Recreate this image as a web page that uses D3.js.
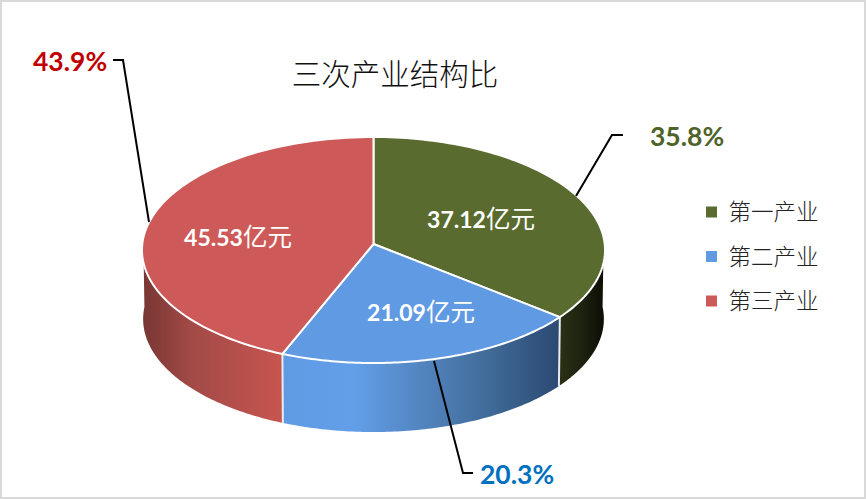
<!DOCTYPE html>
<html>
  <head>
    <meta charset="utf-8">
    <script src="https://d3js.org/d3.v7.min.js"></script>
    <title>三次产业结构比</title>
    <style>
      html, body { margin: 0; padding: 0; background: #fff; }
      svg { display: block; }
    </style>
  </head>
  <body>
    <script>
      // Chart data
      const categories = ["第一产业", "第二产业", "第三产业"];
      const values = [37.12, 21.09, 45.53];
      const shares = ["35.8%", "20.3%", "43.9%"];
      const unit = "亿元";
      const title = "三次产业结构比";

      const colors = ["#5a6b30", "#5f9ae3", "#cd5a58"];
      const shareColors = ["#4f6228", "#0070c0", "#c00000"];

      const width = 866, height = 499;
      const cjk = "'Noto Sans CJK SC', sans-serif";
      const latin = "Lato, 'Noto Sans', sans-serif";

      const svg = d3.select("body").append("svg")
        .attr("width", width)
        .attr("height", height);

      // outer frame
      svg.append("rect")
        .attr("x", 1).attr("y", 1)
        .attr("width", width - 2).attr("height", height - 2)
        .attr("fill", "#fff")
        .attr("stroke", "#d9d9d9")
        .attr("stroke-width", 2);

      // perspective tilt of the pie disc
      const cx = 373.5, cy = 244, rx = 231.2, ry = 112.7, tilt = 0.0531, depth = 69;
      function project(a, r = 1) {
        const u = Math.sin(a) * r, v = -Math.cos(a) * r, w = 1 - tilt * v;
        return [cx + rx * u / w, cy + ry * v / w];
      }

      const arcs = d3.pie().sort(null)(values);
      const line = d3.line();
      const defs = svg.append("defs");

      function arcPoints(a0, a1) {
        return d3.range(0, 91).map(i => project(a0 + (a1 - a0) * i / 90));
      }

      // side wall gradients
      const sideStops = [
        { x1: 559, x2: 605, stops: [[0, "#2b3116"], [0.55, "#1c200e"], [1, "#0b0d04"]] },
        { x1: 283, x2: 559, stops: [[0, "#5f9ae3"], [0.25, "#639fe9"], [0.7, "#44709f"], [1, "#2b4a73"]] },
        { x1: 142, x2: 283, stops: [[0, "#773633"], [0.35, "#a24a47"], [1, "#c8554f"]] }
      ];
      sideStops.forEach((g, i) => {
        const grad = defs.append("linearGradient")
          .attr("id", "side" + i)
          .attr("gradientUnits", "userSpaceOnUse")
          .attr("x1", g.x1).attr("x2", g.x2)
          .attr("y1", 0).attr("y2", 0);
        g.stops.forEach(s => grad.append("stop").attr("offset", s[0]).attr("stop-color", s[1]));
      });

      // side walls, only the part facing the viewer
      const frontStart = Math.PI / 2 - Math.asin(tilt), frontEnd = Math.PI * 1.5 + Math.asin(tilt);
      arcs.forEach((d, i) => {
        const a0 = Math.max(d.startAngle, frontStart), a1 = Math.min(d.endAngle, frontEnd);
        if (a1 <= a0) return;
        const upper = arcPoints(a0, a1);
        const lower = upper.slice().reverse().map(p => [cx + (p[0] - cx) * 0.995, p[1] + depth]);
        svg.append("path")
          .attr("d", line(upper.concat(lower)) + "Z")
          .attr("fill", "url(#side" + i + ")");
      });

      // white seams between the walls
      [arcs[0].endAngle, arcs[1].endAngle].forEach(a => {
        const p = project(a);
        svg.append("line")
          .attr("x1", p[0]).attr("y1", p[1])
          .attr("x2", cx + (p[0] - cx) * 0.995).attr("y2", p[1] + depth)
          .attr("stroke", "#e8ecef")
          .attr("stroke-width", 2);
      });

      // top slices
      svg.selectAll("path.slice")
        .data(arcs)
        .enter()
        .append("path")
        .attr("class", "slice")
        .attr("d", d => line([[cx, cy]].concat(arcPoints(d.startAngle, d.endAngle))) + "Z")
        .attr("fill", (d, i) => colors[i])
        .attr("stroke", "#fff")
        .attr("stroke-width", 2)
        .attr("stroke-linejoin", "round");

      // title
      svg.append("text")
        .text(title)
        .attr("x", 395).attr("y", 85)
        .attr("text-anchor", "middle")
        .attr("font-family", cjk)
        .attr("font-weight", 300)
        .attr("font-size", 29.5)
        .attr("fill", "#111");

      // value labels inside the slices
      const valueX = [481, 421, 238], valueY = [228, 321, 246];
      values.forEach((v, i) => {
        const t = svg.append("text")
          .attr("x", valueX[i]).attr("y", valueY[i])
          .attr("text-anchor", "middle")
          .attr("fill", "#fff");
        t.append("tspan").text(v.toFixed(2))
          .attr("font-family", latin).attr("font-weight", 700).attr("font-size", 23);
        t.append("tspan").text(unit)
          .attr("font-family", cjk).attr("font-size", 24.5);
      });

      // leader lines and share labels
      const leaders = [
        [[576, 196], [612, 135], [623, 135]],
        [[434, 361], [463, 473], [473, 473]],
        [[149, 222], [123, 60], [113, 60]]
      ];
      const shareX = [650, 480, 33], shareY = [146, 484, 71];
      shares.forEach((s, i) => {
        svg.append("path")
          .attr("d", line(leaders[i]))
          .attr("fill", "none")
          .attr("stroke", "#000")
          .attr("stroke-width", 2);
        svg.append("text")
          .text(s)
          .attr("x", shareX[i]).attr("y", shareY[i])
          .attr("font-family", latin)
          .attr("font-weight", 700)
          .attr("font-size", 26.5)
          .attr("fill", shareColors[i]);
      });

      // legend
      const legendY = d3.scalePoint().domain(categories).range([212, 301]);
      const legend = svg.selectAll("g.legend")
        .data(categories)
        .enter()
        .append("g")
        .attr("class", "legend")
        .attr("transform", d => "translate(706," + legendY(d) + ")");
      legend.append("rect")
        .attr("x", 0).attr("y", -5.5)
        .attr("width", 11).attr("height", 11)
        .attr("fill", (d, i) => colors[i]);
      legend.append("text")
        .text(d => d)
        .attr("x", 22.5).attr("y", 8)
        .attr("font-family", cjk)
        .attr("font-weight", 300)
        .attr("font-size", 22.5)
        .attr("fill", "#222");
    </script>
  </body>
</html>
